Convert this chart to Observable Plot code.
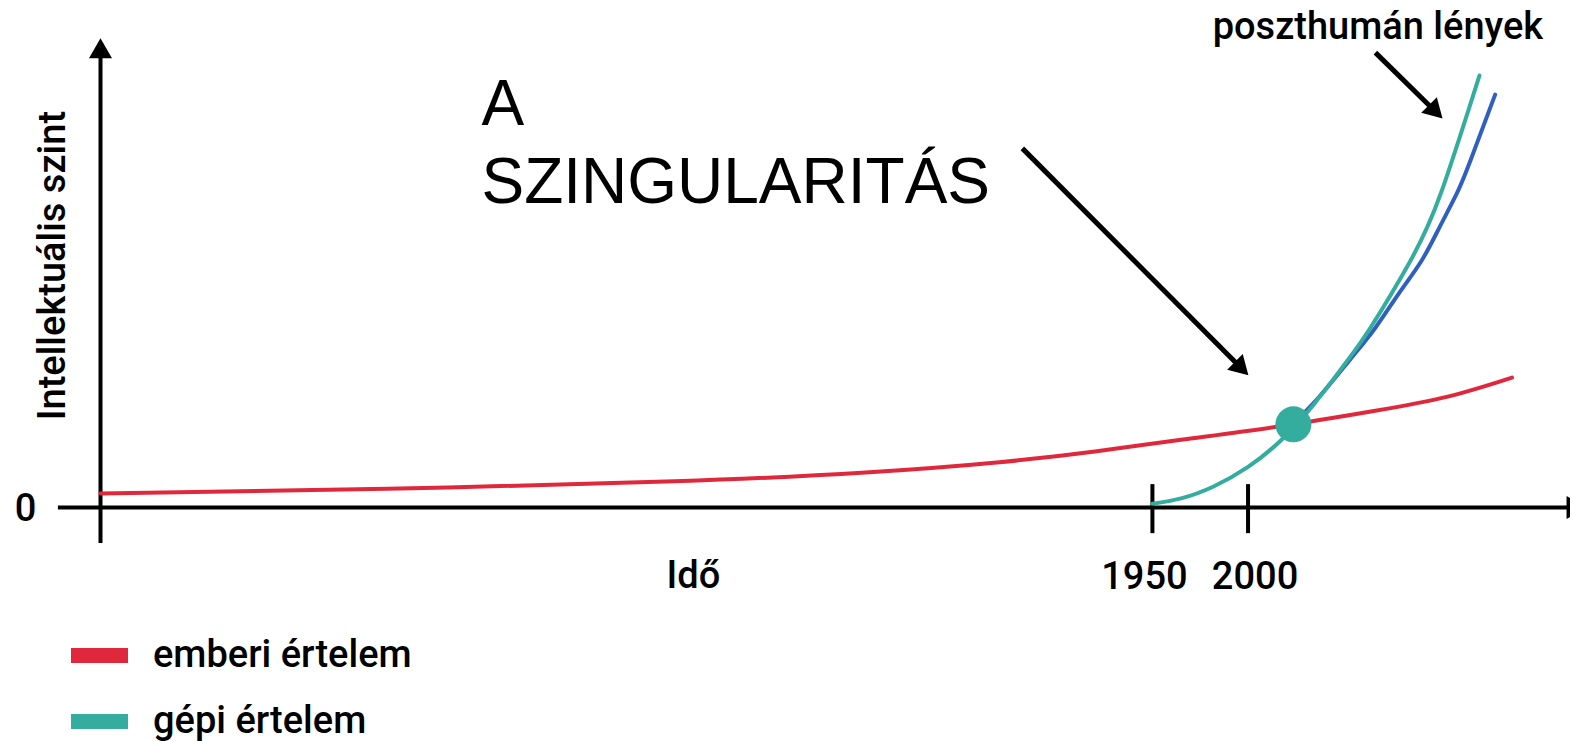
<!DOCTYPE html>
<html>
<head>
<meta charset="utf-8">
<script src="https://cdn.jsdelivr.net/npm/d3@7"></script>
<script src="https://cdn.jsdelivr.net/npm/@observablehq/plot@0.6"></script>
<style>
  html, body { margin: 0; padding: 0; background: #fff; overflow: hidden; }
  #chart svg { display: block; }
  .legend { padding-top: 2px; margin-left: 71px; font-family: Roboto, sans-serif; font-weight: 500; font-size: 38px; color: #000; }
  .legend .row { display: flex; align-items: center; height: 66px; }
  .legend .sw { width: 57px; height: 15px; margin-right: 25px; }
  .legend .lb { line-height: 38px; position: relative; top: -1px; }
</style>
</head>
<body>
<div id="chart"></div>
<div class="legend" id="legend"></div>
<script>
// ---- data (schematic values) ----
const humanYear  = [1400, 1550, 1700, 1800, 1870, 1920, 1965, 2015, 2065, 2105, 2138];
const humanLevel = [3.0, 4.0, 5.6, 7.5, 9.7, 12.0, 14.5, 17.3, 20.6, 23.8, 27.8];

const machineYear  = [1950, 1965, 1982, 2000, 2017, 2035, 2052, 2064, 2085, 2101, 2121];
const machineLevel = [0.8, 1.95, 4.5, 8.7, 14.3, 22.4, 31.5, 38.5, 52.9, 67.5, 92.5];

const posthumanYear  = [2022, 2037, 2053, 2066.6, 2078.8, 2090.8, 2100.1, 2109.1, 2116.3, 2129.2];
const posthumanLevel = [17.3, 23.6, 31.5, 38.5, 45.8, 52.9, 60.0, 67.2, 74.3, 88.4];

const singularityYear = [2023.7];
const singularityLevel = [17.8];

const tickYears  = [1950, 2000];
const tickLabels = ["1950", "2000"];

const seriesNames  = ["emberi értelem", "gépi értelem"];
const seriesColors = ["#e0283d", "#34ad9e"];
const posthumanColor = "#3060bf";

const axisLabelX = "Idő";
const axisLabelY = "Intellektuális szint";
const zeroLabel = "0";
const bigNote = "A\nSZINGULARITÁS";
const smallNote = "poszthumán lények";

// annotation arrows, in data units (year, level)
const noteArrows = [
  {x1: 1882, y1: 76.9, x2: 2000.2, y2: 28.3},
  {x1: 2066.6, y1: 97.4, x2: 2101.7, y2: 83.3}
];

// ---- tables ----
const human = humanYear.map((x, i) => ({x, y: humanLevel[i]}));
const machine = machineYear.map((x, i) => ({x, y: machineLevel[i]}));
const posthuman = posthumanYear.map((x, i) => ({x, y: posthumanLevel[i]}));
const singularity = singularityYear.map((x, i) => ({x, y: singularityLevel[i]}));
const ticks = tickYears.map((x, i) => ({x, label: tickLabels[i]}));

const font = {fontFamily: "Roboto, sans-serif", fontSize: 38, fontWeight: 500, fill: "#000"};

const chart = Plot.plot({
  width: 1570,
  height: 620,
  x: {domain: [1400, 2168.6], range: [100, 1570], axis: null},
  y: {domain: [0, 100], range: [507, 40], axis: null},
  style: {background: "white"},
  marks: [
    // axes
    Plot.ruleY([0], {x1: 1378, x2: 2172, stroke: "#000", strokeWidth: 4}),
    Plot.ruleX([1400], {y1: -7.7, y2: 97, stroke: "#000", strokeWidth: 4}),
    Plot.ruleX(ticks, {x: "x", y1: -5.6, y2: 4.9, stroke: "#000", strokeWidth: 4}),
    Plot.dot([{x: 1400, y: 100}], {x: "x", y: "y", symbol: "triangle", r: 8.54, fill: "#000", stroke: "none", dy: 11}),
    Plot.dot([{x: 2170, y: 0}], {x: "x", y: "y", symbol: "triangle", r: 8.54, fill: "#000", stroke: "none", rotate: 90}),
    // axis texts
    Plot.text([ticks[0]], {x: "x", y: 0, text: "label", dy: 81, dx: -8, lineAnchor: "bottom", ...font}),
    Plot.text([ticks[1]], {x: "x", y: 0, text: "label", dy: 81, dx: 7, lineAnchor: "bottom", ...font}),
    Plot.text([axisLabelX], {x: 1710, y: 0, text: d => d, dy: 80, lineAnchor: "bottom", ...font}),
    Plot.text([zeroLabel], {x: 1400, y: 0, text: d => d, dx: -75, dy: 13, lineAnchor: "bottom", ...font}),
    Plot.text([axisLabelY], {x: 1400, y: 51.8, text: d => d, rotate: -90, dx: -36, lineAnchor: "bottom", ...font}),
    // series
    Plot.line(human, {x: "x", y: "y", stroke: seriesColors[0], strokeWidth: 4, curve: "natural"}),
    Plot.line(posthuman, {x: "x", y: "y", stroke: posthumanColor, strokeWidth: 4, curve: "natural"}),
    Plot.line(machine, {x: "x", y: "y", stroke: seriesColors[1], strokeWidth: 4, curve: "natural"}),
    Plot.dot(singularity, {x: "x", y: "y", r: 18, fill: seriesColors[1], stroke: "none"}),
    // annotations
    Plot.arrow(noteArrows, {x1: "x1", y1: "y1", x2: "x2", y2: "y2", headLength: 0, insetEnd: 10, stroke: "#000", strokeWidth: 5, strokeLinecap: "butt"}),
    Plot.dot(noteArrows, {x: "x2", y: "y2", symbol: "triangle", r: 8.17, fill: "#000", stroke: "none", rotate: 135, dx: -9, dy: -9}),
    Plot.text([bigNote], {x: 1599.2, y: 65.1, text: d => d, textAnchor: "start", lineAnchor: "bottom", lineHeight: 1.219,
      fontFamily: "'Liberation Sans', Arial, sans-serif", fontSize: 64, fontWeight: 400, fill: "#000"}),
    Plot.text([smallNote], {x: 2067.9, y: 100.4, text: d => d, lineAnchor: "bottom", ...font})
  ]
});
document.getElementById("chart").appendChild(chart);

// legend
const legend = document.getElementById("legend");
seriesNames.forEach((name, i) => {
  const row = document.createElement("div");
  row.className = "row";
  const sw = document.createElement("span");
  sw.className = "sw";
  sw.style.background = seriesColors[i];
  const lb = document.createElement("span");
  lb.className = "lb";
  lb.textContent = name;
  row.appendChild(sw);
  row.appendChild(lb);
  legend.appendChild(row);
});
</script>
</body>
</html>
